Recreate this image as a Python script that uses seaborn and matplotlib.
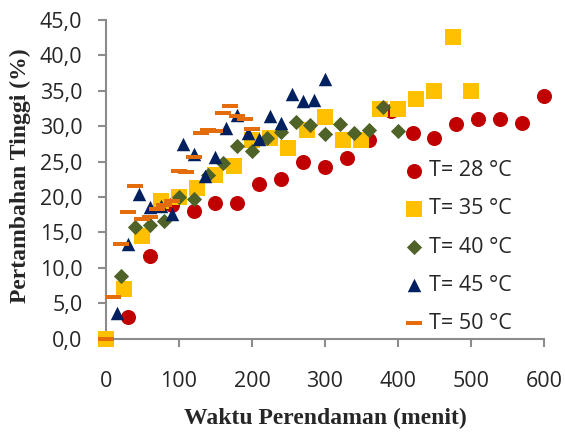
# =========================
# Libraries
# =========================

import matplotlib
matplotlib.use("Agg")
import numpy as np
import pandas as pd
import matplotlib.pyplot as plt
import seaborn as sns
from matplotlib.ticker import FuncFormatter, MultipleLocator

# =========================
# Data
# =========================

time_28 = [0, 30, 60, 90, 120, 150, 180, 210, 240, 270, 300, 330, 360, 390, 420, 450, 480, 510, 540, 570, 600]
rise_28 = [0.0, 3.0, 11.6, 18.8, 18.0, 19.1, 19.1, 21.9, 22.6, 24.9, 24.2, 25.5, 28.0, 32.1, 29.1, 28.4, 30.3, 31.0, 31.0, 30.5, 34.3]

time_35 = [0, 25, 50, 75, 100, 125, 150, 175, 200, 225, 250, 275, 300, 325, 350, 375, 400, 425, 450, 475, 500]
rise_35 = [0.0, 7.0, 14.5, 19.4, 20.0, 21.3, 23.1, 24.4, 28.0, 28.3, 26.9, 29.4, 31.3, 28.1, 28.1, 32.4, 32.5, 33.8, 35.0, 42.6, 35.0]

time_40 = [20, 40, 60, 80, 100, 120, 140, 160, 180, 200, 220, 240, 260, 280, 300, 320, 340, 360, 380, 400]
rise_40 = [8.9, 15.7, 16.1, 16.6, 20.0, 19.7, 23.1, 24.8, 27.2, 26.5, 28.4, 29.2, 30.6, 30.2, 28.9, 30.3, 29.0, 29.5, 32.7, 29.3]

time_45 = [15, 30, 45, 60, 75, 90, 105, 120, 135, 150, 165, 180, 195, 210, 225, 240, 255, 270, 285, 300]
rise_45 = [3.6, 13.4, 20.4, 18.6, 18.7, 17.6, 27.5, 26.1, 23.0, 25.7, 29.7, 31.6, 29.0, 28.2, 31.4, 30.5, 34.6, 33.6, 33.7, 36.6]

time_50 = [0, 10, 20, 30, 40, 50, 60, 70, 80, 90, 100, 110, 120, 130, 140, 150, 160, 170, 180, 190, 200]
rise_50 = [0.0, 5.9, 13.3, 17.9, 21.6, 16.9, 17.2, 18.3, 18.9, 19.5, 23.7, 23.6, 25.7, 29.0, 29.4, 29.3, 31.9, 32.8, 31.4, 31.0, 29.6]

labels = ["T= 28 °C", "T= 35 °C", "T= 40 °C", "T= 45 °C", "T= 50 °C"]
colors = ["#C00000", "#FFC000", "#4F6228", "#002060", "#E46C0A"]

# =========================
# Style
# =========================

sns.set_style("white")
plt.rcParams["font.family"] = ["Open Sans", "DejaVu Sans"]

gray = "#8c8c8c"
dash = [(-1, -0.22), (1, -0.22), (1, 0.22), (-1, 0.22)]
markers = ["o", "s", "D", "^", dash]
sizes = [117, 117, 60, 94, 117]

series = [(time_28, rise_28), (time_35, rise_35), (time_40, rise_40),
          (time_45, rise_45), (time_50, rise_50)]

# =========================
# Plot
# =========================

fig = plt.figure(figsize=(5.65, 4.32), dpi=100)
ax = fig.add_axes([0.1876, 0.2162, 0.7752, 0.7375])

for (t, r), lab, col, mk, sz in zip(series, labels, colors, markers, sizes):
    df = pd.DataFrame({"Waktu": t, "Tinggi": r})
    sns.scatterplot(data=df, x="Waktu", y="Tinggi", marker=mk, color=col, s=sz,
                    linewidth=0, label=lab, ax=ax, zorder=3, clip_on=False)

ax.set_xlim(0, 600)
ax.set_ylim(0, 45)
ax.xaxis.set_major_locator(MultipleLocator(100))
ax.yaxis.set_major_locator(MultipleLocator(5))
ax.yaxis.set_major_formatter(FuncFormatter(lambda v, p: f"{v:.1f}".replace(".", ",")))

for side in ["top", "right"]:
    ax.spines[side].set_visible(False)
for side in ["left", "bottom"]:
    ax.spines[side].set_color(gray)
    ax.spines[side].set_linewidth(1.5)

ax.tick_params(axis="y", length=6, width=1.5, color=gray, pad=11, labelsize=15.5, left=True)
ax.tick_params(axis="x", length=6, width=1.5, color=gray, pad=17, labelsize=15.5, bottom=True)

ax.set_xlabel("Waktu Perendaman (menit)", family="Liberation Serif", weight="bold",
              fontsize=17, va="center")
ax.set_ylabel("Pertambahan Tinggi (%)", family="Liberation Serif", weight="bold",
              fontsize=17, va="center")
ax.xaxis.set_label_coords(0.5, -0.25)
ax.yaxis.set_label_coords(-0.196, 0.51)

ax.legend(loc="upper left", bbox_to_anchor=(0.684, 0.56), frameon=False, fontsize=15.5,
          handlelength=0.8, handletextpad=0.3, labelspacing=0.8, borderpad=0,
          borderaxespad=0, scatterpoints=1)

fig.savefig("out.png", dpi=100)
